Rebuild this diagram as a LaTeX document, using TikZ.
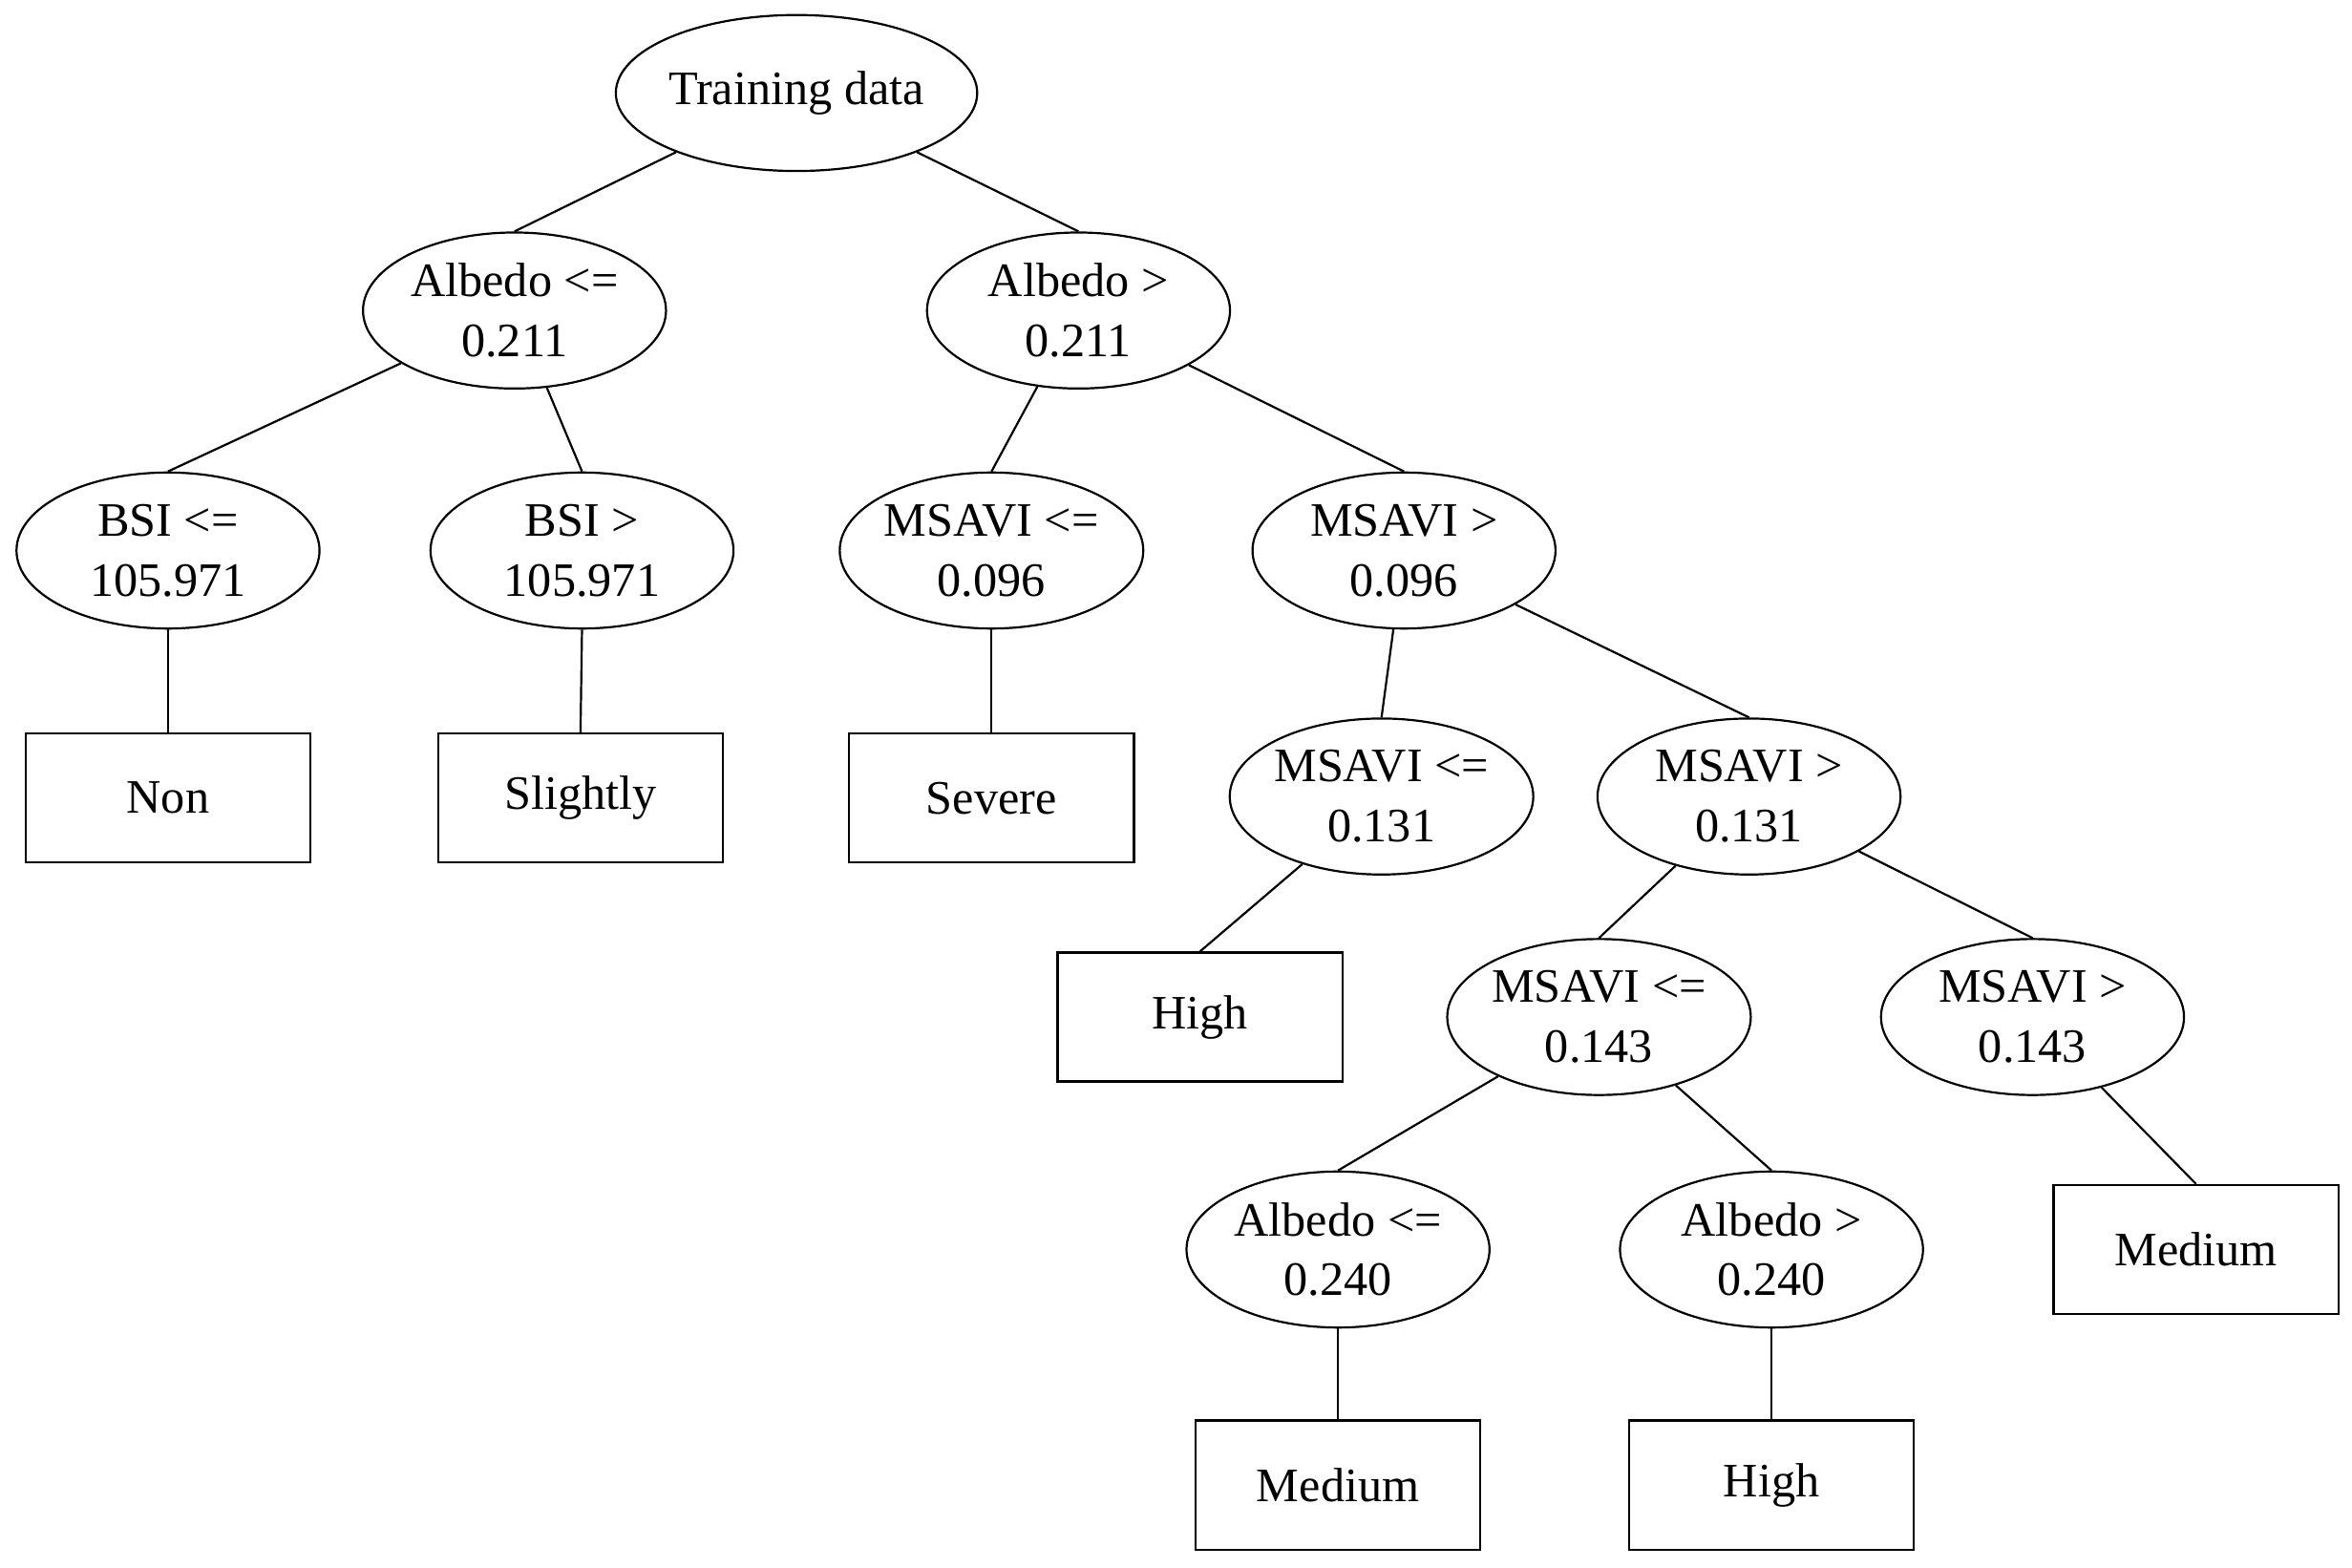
\documentclass[tikz,border=0pt]{standalone}
\usepackage{fontspec}
\setmainfont{Liberation Serif}
\usetikzlibrary{shapes.geometric}
\begin{document}
\begin{tikzpicture}[x=0.5pt,y=-0.5pt,
  el/.style={ellipse,draw,line width=0.7pt,minimum width=101pt,minimum height=52pt,inner sep=0pt,align=center,font=\fontsize{16}{20}\selectfont},
  bx/.style={rectangle,draw,line width=0.7pt,minimum width=95pt,minimum height=43pt,inner sep=0pt,font=\fontsize{16}{20}\selectfont},
  ln/.style={line width=0.7pt}]
\useasboundingbox (0,0) rectangle (1568,1045);
\node[el] (t) at (531,62) {Training data};
\node[el] (a1) at (343,207) {Albedo <=\\0.211};
\node[el] (a2) at (719,207) {Albedo >\\0.211};
\node[el] (b1) at (112,367) {BSI <=\\105.971};
\node[el] (b2) at (388,367) {BSI >\\105.971};
\node[el] (m1) at (661,367) {MSAVI <=\\0.096};
\node[el] (m2) at (936,367) {MSAVI >\\0.096};
\node[bx] (non) at (112,532) {Non};
\node[bx] (sli) at (387,532) {Slightly};
\node[bx] (sev) at (661,532) {Severe};
\node[el] (m3) at (921,531) {MSAVI <=\\0.131};
\node[el] (m4) at (1166,531) {MSAVI >\\0.131};
\node[bx] (hi1) at (800,678) {High};
\node[el] (m5) at (1066,678) {MSAVI <=\\0.143};
\node[el] (m6) at (1355,678) {MSAVI >\\0.143};
\node[el] (a3) at (892,833) {Albedo <=\\0.240};
\node[el] (a4) at (1181,833) {Albedo >\\0.240};
\node[bx] (med1) at (1464,833) {Medium};
\node[bx] (med2) at (892,990) {Medium};
\node[bx] (hi2) at (1181,990) {High};
\foreach \p/\c in {t/a1,t/a2,a1/b1,a1/b2,a2/m1,a2/m2,m2/m3,m2/m4,m3/hi1,m4/m5,m4/m6,m5/a3,m5/a4,m6/med1}
  \draw[ln] (\p) -- (\c.north);
\foreach \p/\c in {b1/non,b2/sli,m1/sev,a3/med2,a4/hi2}
  \draw[ln] (\p.south) -- (\c.north);
\end{tikzpicture}
\end{document}
